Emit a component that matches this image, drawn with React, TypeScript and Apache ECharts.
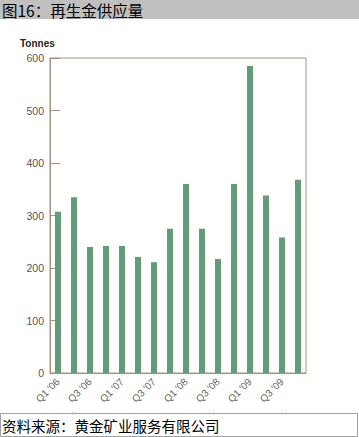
import React, { useEffect, useRef } from "react";
import * as echarts from "echarts";

const categories = [
  "Q1 '06", "Q2 '06", "Q3 '06", "Q4 '06",
  "Q1 '07", "Q2 '07", "Q3 '07", "Q4 '07",
  "Q1 '08", "Q2 '08", "Q3 '08", "Q4 '08",
  "Q1 '09", "Q2 '09", "Q3 '09", "Q4 '09",
];
const supply = [307, 335, 240, 242, 242, 221, 211, 275, 360, 275, 217, 360, 585, 338, 258, 368];
const titleText = "图16：再生金供应量";
const sourceText = "资料来源：黄金矿业服务有限公司";
const unitText = "Tonnes";

export default function App() {
  const ref = useRef<HTMLDivElement>(null);
  useEffect(() => {
    document.body.style.margin = "0";
    const chart = echarts.init(ref.current!, null, { renderer: "svg" });
    const axisColor = "#a8907e";
    chart.setOption({
      animation: false,
      grid: {
        left: 50,
        right: 53,
        top: 58,
        bottom: 64,
        show: true,
        borderColor: axisColor,
        borderWidth: 1,
        backgroundColor: "transparent",
      },
      xAxis: {
        type: "category",
        data: categories,
        boundaryGap: true,
        axisLine: { lineStyle: { color: axisColor, width: 1 } },
        axisTick: { inside: true, length: 6, interval: 0, lineStyle: { color: axisColor } },
        axisLabel: {
          interval: 1,
          rotate: 45,
          color: "#666",
          fontSize: 10,
          fontFamily: "Arial, Liberation Sans, sans-serif",
          margin: 7,
        },
        splitLine: { show: false },
      },
      yAxis: {
        type: "value",
        min: 0,
        max: 600,
        interval: 100,
        axisLine: { show: true, lineStyle: { color: axisColor, width: 1 } },
        axisTick: { show: true, inside: true, length: 10, lineStyle: { color: axisColor } },
        axisLabel: {
          color: "#555",
          fontSize: 10.5,
          fontFamily: "Arial, Liberation Sans, sans-serif",
          margin: 6,
        },
        splitLine: { show: false },
      },
      series: [
        {
          type: "bar",
          data: supply,
          barWidth: 6,
          itemStyle: { color: "#629c78" },
        },
      ],
      graphic: [
        {
          type: "rect",
          shape: { x: 0, y: 0, width: 359, height: 19 },
          style: { fill: "#c0c0c0" },
        },
        {
          type: "text",
          x: 2,
          y: 10,
          style: {
            text: titleText,
            fill: "#000",
            fontSize: 15.5,
            lineHeight: 17,
            textVerticalAlign: "middle",
            fontFamily: "Noto Sans CJK SC",
          },
        },
        {
          type: "text",
          left: 20,
          top: 38,
          style: {
            text: unitText,
            fill: "#222",
            fontSize: 10,
            fontWeight: "bold",
            fontFamily: "Arial, Liberation Sans, sans-serif",
          },
        },
        {
          type: "rect",
          shape: { x: 0.5, y: 413.5, width: 357, height: 23 },
          style: { fill: "none", stroke: "#a0a0a0", lineWidth: 1 },
        },
        {
          type: "line",
          shape: { x1: 72.5, y1: 412, x2: 72.5, y2: 415 },
          style: { stroke: "#c8c8c8", lineWidth: 1 },
        },
        {
          type: "line",
          shape: { x1: 213.5, y1: 412, x2: 213.5, y2: 415 },
          style: { stroke: "#c8c8c8", lineWidth: 1 },
        },
        {
          type: "line",
          shape: { x1: 286.5, y1: 412, x2: 286.5, y2: 415 },
          style: { stroke: "#c8c8c8", lineWidth: 1 },
        },
        {
          type: "text",
          x: 2,
          y: 425,
          style: {
            text: sourceText,
            fill: "#000",
            fontSize: 14.5,
            lineHeight: 17,
            textVerticalAlign: "middle",
            fontFamily: "Noto Sans CJK SC",
          },
        },
      ],
    });
    return () => chart.dispose();
  }, []);
  return <div ref={ref} style={{ width: 359, height: 437 }} />;
}
